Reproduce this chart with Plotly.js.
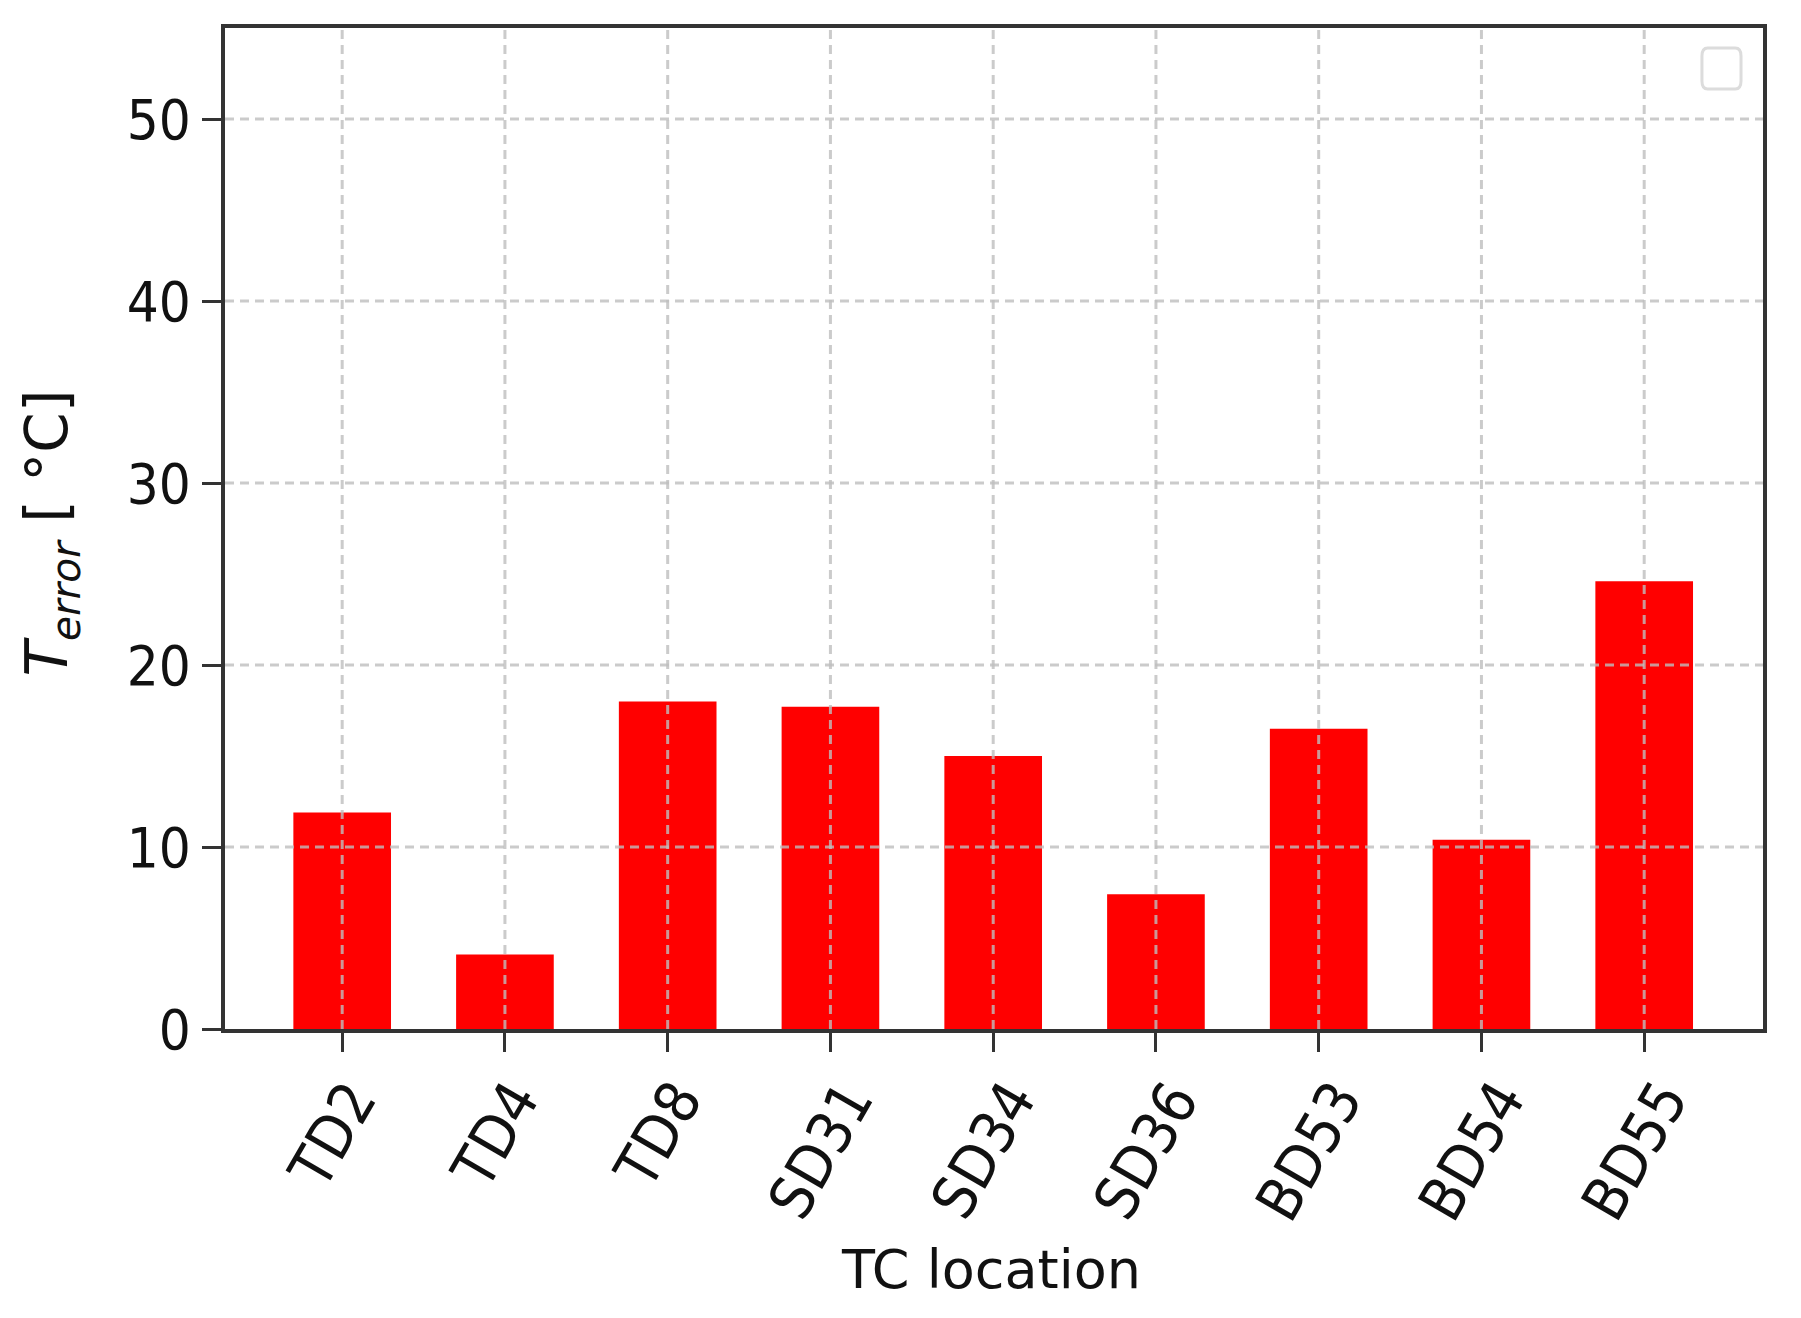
<!DOCTYPE html>
<html>
<head>
<meta charset="utf-8">
<script src="https://cdn.plot.ly/plotly-3.0.1.min.js"></script>
<style>
  html, body { margin: 0; padding: 0; background: #fff; }
  #chart { width: 1801px; height: 1318px; }
</style>
</head>
<body>
<div id="chart"></div>
<script>
(function () {
    // data
    const locations = ['TD2', 'TD4', 'TD8', 'SD31', 'SD34', 'SD36', 'BD53', 'BD54', 'BD55'];
    const tError = [11.9, 4.1, 18.0, 17.7, 15.0, 7.4, 16.5, 10.4, 24.6];
    const yTicks = [0, 10, 20, 30, 40, 50];

    const FONT_C = 'DejaVu Sans Condensed, DejaVu Sans, sans-serif';
    const FONT = 'DejaVu Sans, sans-serif';
    const GRID = 'rgba(190,190,190,0.8)';

    const bars = {
        type: 'bar',
        x: locations,
        y: tError,
        width: 0.6,
        marker: { color: '#ff0000', line: { width: 0 } },
        showlegend: false,
        hoverinfo: 'x+y'
    };

    // grid drawn above the bars, like the matplotlib figure
    const shapes = [];
    yTicks.forEach(function (v) {
        if (v === 0) return;
        shapes.push({
            type: 'line', layer: 'above',
            xref: 'paper', x0: 0, x1: 1,
            yref: 'y', y0: v, y1: v,
            line: { color: GRID, width: 3, dash: '9px,6px' }
        });
    });
    locations.forEach(function (c) {
        shapes.push({
            type: 'line', layer: 'above',
            xref: 'x', x0: c, x1: c,
            yref: 'paper', y0: 0, y1: 1,
            line: { color: GRID, width: 3, dash: '9px,6px' }
        });
    });
    // empty legend box in the upper right corner
    shapes.push({
        type: 'path', layer: 'above',
        xref: 'paper', yref: 'paper',
        path: 'M 0.9640 0.9800 L 0.9820 0.9800 Q 0.9857 0.9800 0.9857 0.9720 ' +
              'L 0.9857 0.9470 Q 0.9857 0.9390 0.9820 0.9390 L 0.9640 0.9390 ' +
              'Q 0.9603 0.9390 0.9603 0.9470 L 0.9603 0.9720 Q 0.9603 0.9800 0.9640 0.9800 Z',
        line: { color: '#dcdcdc', width: 3 },
        fillcolor: 'rgba(255,255,255,0.8)'
    });

    // rotated category labels, centred under each tick
    const annotations = locations.map(function (c) {
        return {
            x: c, xref: 'x',
            y: 0, yref: 'paper',
            text: c,
            textangle: -60,
            showarrow: false,
            xanchor: 'center', yanchor: 'top',
            xshift: -10, yshift: -38,
            font: { family: FONT_C, size: 60, color: '#111' }
        };
    });
    annotations.push({
        x: 0.5, xref: 'paper', y: 0, yref: 'paper',
        text: 'TC location',
        showarrow: false,
        xanchor: 'center', yanchor: 'middle',
        xshift: -3, yshift: -240,
        font: { family: FONT, size: 54, color: '#111' }
    });
    annotations.push({
        x: 0, xref: 'paper', y: 0.495, yref: 'paper',
        text: '<i>T</i><sub><i>error</i></sub> [ °C]',
        textangle: -90,
        showarrow: false,
        xanchor: 'center', yanchor: 'middle',
        xshift: -174,
        font: { family: FONT, size: 58, color: '#111' }
    });

    const layout = {
        width: 1801,
        height: 1318,
        margin: { l: 225, r: 38, t: 28, b: 289 },
        paper_bgcolor: '#ffffff',
        plot_bgcolor: '#ffffff',
        font: { family: FONT_C, size: 56, color: '#111' },
        showlegend: false,
        xaxis: {
            type: 'category',
            range: [-0.72, 8.73],
            showgrid: false,
            zeroline: false,
            showline: true, mirror: true,
            linecolor: '#333', linewidth: 4,
            ticks: 'outside', ticklen: 19, tickwidth: 3, tickcolor: '#333',
            showticklabels: false
        },
        yaxis: {
            range: [0, 55],
            tickvals: yTicks,
            showgrid: false,
            zeroline: false,
            showline: true, mirror: true,
            linecolor: '#333', linewidth: 4,
            ticks: 'outside', ticklen: 19, tickwidth: 3, tickcolor: '#333',
            tickfont: { family: FONT_C, size: 56, color: '#111' }
        },
        shapes: shapes,
        annotations: annotations
    };

    Plotly.newPlot('chart', [bars], layout, { displayModeBar: false, staticPlot: true });
})();
</script>
</body>
</html>
